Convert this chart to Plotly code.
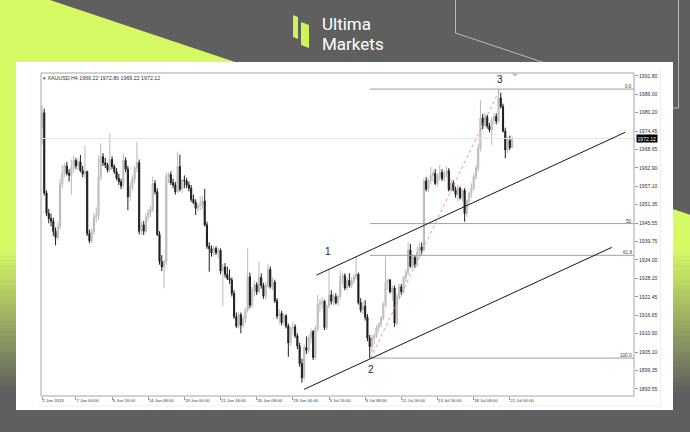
import plotly.graph_objects as go

# ---------------- data ----------------
opens = [1975.5, 1980.2, 1955.0, 1948.6, 1947.0, 1946.2, 1943.0, 1941.0, 1944.5, 1958.0,
         1961.0, 1963.5, 1961.2, 1960.5, 1963.0, 1965.2, 1963.5, 1964.8, 1962.0, 1961.0,
         1961.7, 1942.3, 1940.0, 1942.8, 1947.5, 1948.0, 1960.0, 1966.4, 1964.5, 1963.8,
         1962.2, 1965.5, 1963.3, 1961.7, 1959.6, 1958.5, 1957.2, 1965.2, 1962.5, 1953.8,
         1957.0, 1959.5, 1962.8, 1964.5, 1943.0, 1945.0, 1943.0, 1947.5, 1948.8, 1949.8,
         1958.0, 1955.4, 1942.0, 1933.5, 1931.8, 1933.4, 1960.0, 1960.8, 1958.2, 1957.5,
         1955.4, 1963.3, 1956.2, 1959.0, 1958.8, 1957.5, 1956.5, 1953.0, 1952.0, 1950.2,
         1951.0, 1951.3, 1952.5, 1945.0, 1938.3, 1937.5, 1936.2, 1937.6, 1936.3, 1937.0,
         1930.5, 1931.8, 1929.5, 1928.2, 1927.7, 1923.5, 1916.2, 1913.2, 1916.8, 1913.5,
         1915.5, 1918.2, 1928.7, 1919.8, 1924.5, 1926.2, 1924.0, 1928.5, 1926.0, 1922.6,
         1926.0, 1931.0, 1925.6, 1927.0, 1921.2, 1916.4, 1917.2, 1914.3, 1916.5, 1913.2,
         1908.0, 1912.5, 1913.0, 1910.2, 1907.0, 1901.5, 1897.0, 1906.5, 1905.6, 1909.5,
         1911.5, 1903.4, 1912.5, 1920.0, 1920.5, 1921.0, 1912.8, 1919.5, 1923.0, 1921.0,
         1922.5, 1920.5, 1922.5, 1928.7, 1929.0, 1925.2, 1927.6, 1926.0, 1927.5, 1928.7,
         1929.5, 1920.6, 1918.3, 1919.5, 1916.0, 1909.5, 1906.8, 1909.5, 1910.2, 1912.6,
         1913.8, 1915.8, 1919.8, 1926.8, 1927.7, 1924.0, 1925.2, 1914.2, 1922.5, 1925.6,
         1924.0, 1928.5, 1930.0, 1937.1, 1932.0, 1934.8, 1932.5, 1936.5, 1938.0, 1937.0,
         1958.8, 1956.2, 1959.0, 1960.5, 1961.2, 1958.0, 1960.0, 1961.5, 1959.5, 1961.2,
         1962.0, 1956.0, 1958.0, 1956.0, 1954.5, 1956.5, 1953.5, 1955.8, 1948.6, 1952.5,
         1954.9, 1956.5, 1960.1, 1962.8, 1969.0, 1978.5, 1976.2, 1978.9, 1976.0, 1974.8,
         1978.0, 1979.0, 1977.5, 1984.8, 1982.1, 1974.4, 1968.5, 1971.5, 1969.22]
highs = [1982.6, 1981.5, 1955.8, 1950.0, 1948.5, 1947.2, 1944.2, 1946.0, 1959.5, 1963.8,
         1964.5, 1964.8, 1962.5, 1965.5, 1966.8, 1966.0, 1965.8, 1966.9, 1963.5, 1969.8,
         1962.0, 1943.5, 1944.0, 1948.8, 1950.5, 1966.9, 1970.6, 1967.5, 1966.0, 1964.5,
         1973.7, 1966.5, 1964.0, 1962.8, 1961.0, 1959.5, 1967.4, 1966.2, 1963.5, 1958.5,
         1960.5, 1963.5, 1971.1, 1965.5, 1946.0, 1946.2, 1948.6, 1950.0, 1951.0, 1960.1,
         1959.0, 1956.5, 1943.0, 1935.5, 1934.0, 1961.5, 1961.5, 1961.8, 1959.5, 1958.5,
         1968.0, 1967.0, 1959.5, 1960.5, 1959.8, 1958.6, 1957.5, 1954.5, 1953.0, 1952.0,
         1954.0, 1954.2, 1956.3, 1946.0, 1939.5, 1938.5, 1938.5, 1938.2, 1937.8, 1937.6,
         1932.8, 1933.0, 1931.9, 1931.0, 1928.5, 1924.5, 1917.5, 1917.8, 1917.5, 1916.5,
         1919.0, 1937.6, 1930.0, 1925.5, 1927.5, 1927.0, 1933.4, 1929.8, 1926.8, 1927.0,
         1932.8, 1931.9, 1928.5, 1927.8, 1922.0, 1918.5, 1918.0, 1917.5, 1917.0, 1914.0,
         1913.2, 1914.5, 1913.8, 1911.0, 1908.0, 1903.0, 1907.5, 1910.0, 1910.5, 1912.5,
         1912.0, 1913.5, 1923.0, 1921.8, 1922.3, 1921.5, 1920.0, 1931.3, 1924.5, 1923.5,
         1923.5, 1923.0, 1930.8, 1930.0, 1929.8, 1928.5, 1929.8, 1928.5, 1929.5, 1935.0,
         1930.0, 1922.0, 1921.0, 1921.4, 1917.0, 1910.5, 1910.5, 1911.0, 1913.5, 1914.5,
         1916.5, 1920.8, 1935.0, 1928.2, 1928.0, 1926.0, 1926.0, 1923.5, 1926.6, 1926.5,
         1929.0, 1931.0, 1939.5, 1939.0, 1935.8, 1935.5, 1938.0, 1939.5, 1939.5, 1959.6,
         1960.0, 1959.5, 1963.2, 1962.0, 1962.5, 1961.0, 1963.8, 1962.5, 1962.0, 1963.3,
         1962.8, 1959.5, 1959.0, 1957.0, 1957.5, 1957.0, 1956.3, 1956.5, 1953.0, 1955.5,
         1958.0, 1961.0, 1963.8, 1970.5, 1984.2, 1979.8, 1980.2, 1979.5, 1977.0, 1978.8,
         1980.0, 1980.0, 1987.5, 1986.5, 1983.0, 1975.5, 1972.7, 1973.0, 1972.80]
lows = [1970.2, 1954.2, 1947.8, 1945.5, 1944.5, 1941.5, 1938.6, 1940.0, 1943.5, 1956.5,
        1960.0, 1960.5, 1958.6, 1954.5, 1961.5, 1962.5, 1962.2, 1961.5, 1960.0, 1959.5,
        1941.5, 1939.3, 1939.2, 1942.0, 1945.8, 1946.5, 1959.0, 1963.5, 1962.8, 1961.5,
        1961.5, 1962.5, 1961.0, 1959.0, 1957.5, 1956.2, 1956.5, 1961.5, 1949.6, 1952.5,
        1955.8, 1958.0, 1961.5, 1942.0, 1941.8, 1941.8, 1942.5, 1946.0, 1947.5, 1949.0,
        1954.5, 1941.5, 1932.5, 1930.5, 1925.1, 1932.5, 1958.0, 1957.5, 1956.5, 1954.5,
        1955.0, 1955.5, 1955.0, 1956.5, 1956.5, 1955.5, 1952.2, 1951.5, 1948.1, 1949.2,
        1949.5, 1950.0, 1944.5, 1937.5, 1930.3, 1935.0, 1935.2, 1935.5, 1934.5, 1929.5,
        1919.5, 1928.5, 1927.7, 1926.5, 1922.5, 1915.5, 1912.6, 1912.5, 1911.0, 1912.8,
        1914.2, 1917.5, 1918.8, 1919.0, 1922.5, 1923.0, 1923.5, 1925.0, 1921.8, 1921.5,
        1925.2, 1925.0, 1924.5, 1920.5, 1915.5, 1914.0, 1913.5, 1913.2, 1912.5, 1903.6,
        1907.0, 1910.5, 1909.5, 1906.0, 1900.5, 1895.5, 1896.2, 1904.5, 1904.8, 1907.8,
        1902.6, 1902.8, 1911.5, 1917.5, 1918.5, 1912.0, 1912.0, 1918.8, 1920.0, 1919.8,
        1920.0, 1919.5, 1921.8, 1926.5, 1924.5, 1924.5, 1925.3, 1925.2, 1926.5, 1927.8,
        1920.0, 1917.5, 1917.0, 1915.0, 1908.5, 1903.2, 1905.0, 1907.5, 1909.5, 1911.5,
        1913.0, 1915.0, 1919.2, 1924.5, 1923.5, 1921.2, 1913.0, 1913.5, 1921.5, 1923.0,
        1923.5, 1927.2, 1929.2, 1931.5, 1931.2, 1931.5, 1931.8, 1934.5, 1935.8, 1936.5,
        1955.5, 1955.2, 1957.8, 1958.5, 1957.5, 1957.0, 1959.0, 1958.8, 1958.5, 1960.0,
        1955.5, 1955.2, 1955.5, 1953.5, 1952.2, 1953.0, 1952.5, 1946.0, 1947.5, 1951.2,
        1953.5, 1955.8, 1959.2, 1961.8, 1968.0, 1975.0, 1975.5, 1975.2, 1974.0, 1970.1,
        1976.5, 1976.5, 1977.0, 1981.5, 1974.0, 1965.9, 1967.5, 1968.5, 1969.22]
closes = [1980.2, 1955.0, 1948.6, 1947.0, 1946.2, 1943.0, 1941.0, 1944.5, 1958.0, 1961.0,
          1963.5, 1961.2, 1960.5, 1963.0, 1965.2, 1963.5, 1964.8, 1962.0, 1961.0, 1961.7,
          1942.3, 1940.0, 1942.8, 1947.5, 1948.0, 1960.0, 1966.4, 1964.5, 1963.8, 1962.2,
          1965.5, 1963.3, 1961.7, 1959.6, 1958.5, 1957.2, 1965.2, 1962.5, 1953.8, 1957.0,
          1959.5, 1962.8, 1964.5, 1943.0, 1945.0, 1943.0, 1947.5, 1948.8, 1949.8, 1958.0,
          1955.4, 1942.0, 1933.5, 1931.8, 1933.4, 1960.0, 1960.8, 1958.2, 1957.5, 1955.4,
          1963.3, 1956.2, 1959.0, 1958.8, 1957.5, 1956.5, 1953.0, 1952.0, 1950.2, 1951.0,
          1951.3, 1952.5, 1945.0, 1938.3, 1937.5, 1936.2, 1937.6, 1936.3, 1937.0, 1930.5,
          1931.8, 1929.5, 1928.2, 1927.7, 1923.5, 1916.2, 1913.2, 1916.8, 1913.5, 1915.5,
          1918.2, 1928.7, 1919.8, 1924.5, 1926.2, 1924.0, 1928.5, 1926.0, 1922.6, 1926.0,
          1931.0, 1925.6, 1927.0, 1921.2, 1916.4, 1917.2, 1914.3, 1916.5, 1913.2, 1908.0,
          1912.5, 1913.0, 1910.2, 1907.0, 1901.5, 1897.0, 1906.5, 1905.6, 1909.5, 1911.5,
          1903.4, 1912.5, 1920.0, 1920.5, 1921.0, 1912.8, 1919.5, 1923.0, 1921.0, 1922.5,
          1920.5, 1922.5, 1928.7, 1929.0, 1925.2, 1927.6, 1926.0, 1927.5, 1928.7, 1929.5,
          1920.6, 1918.3, 1919.5, 1916.0, 1909.5, 1906.8, 1909.5, 1910.2, 1912.6, 1913.8,
          1915.8, 1919.8, 1926.8, 1927.7, 1924.0, 1925.2, 1914.2, 1922.5, 1925.6, 1924.0,
          1928.5, 1930.0, 1937.1, 1932.0, 1934.8, 1932.5, 1936.5, 1938.0, 1937.0, 1958.8,
          1956.2, 1959.0, 1960.5, 1961.2, 1958.0, 1960.0, 1961.5, 1959.5, 1961.2, 1962.0,
          1956.0, 1958.0, 1956.0, 1954.5, 1956.5, 1953.5, 1955.8, 1948.6, 1952.5, 1954.9,
          1956.5, 1960.1, 1962.8, 1969.0, 1978.5, 1976.2, 1978.9, 1976.0, 1974.8, 1978.0,
          1979.0, 1977.5, 1984.8, 1982.1, 1974.4, 1968.5, 1971.5, 1969.22, 1972.12]
bar_index = list(range(len(opens)))

time_tick_index = [0, 15, 31, 47, 63, 79, 95, 111, 127, 143, 159, 175, 191, 207]
time_tick_labels = ["2 Jun 2023", "7 Jun 00:00", "9 Jun 16:00", "14 Jun 08:00",
                    "19 Jun 00:00", "21 Jun 16:00", "26 Jun 08:00", "29 Jun 00:00",
                    "3 Jul 16:00", "6 Jul 08:00", "11 Jul 00:00", "13 Jul 16:00",
                    "18 Jul 08:00", "21 Jul 00:00"]
price_ticks = [1991.80, 1986.00, 1980.20, 1974.45, 1968.65, 1962.90, 1957.10, 1951.35,
               1945.55, 1939.75, 1934.00, 1928.20, 1922.45, 1916.65, 1910.90, 1905.10,
               1899.35, 1893.55]

# wave pivots 1, 2, 3
wave_labels = ["1", "2", "3"]
wave_x = [126.7, 145.4, 202.6]
wave_y = [1931.3, 1903.2, 1987.6]

# Fibonacci retracement drawn from pivot 2 to pivot 3
fib_levels = [0.0, 50.0, 61.8, 100.0]
fib_level_text = ["0.0", "50", "61.8", "100.0"]
fib_start_x = 145.1
fib_low = 1903.2
fib_high = 1987.6

# channel lines (index, price)
channel_upper_x = [121.5, 258.0]
channel_upper_y = [1929.25, 1974.03]
channel_lower_x = [115.9, 252.1]
channel_lower_y = [1893.37, 1937.94]

x_range = [-0.442, 261.95]
y_range = [1891.3, 1992.65]

# ---------------- layout helpers ----------------
FW, FH = 690, 432
PL, PR, PT, PB = 41, 634, 73, 396


def px(x):
    return (x - PL) / (PR - PL)


def py(y):
    return (PB - y) / (PB - PT)


def poly(points, closed=True):
    s = "M " + " L ".join(f"{px(a):.5f},{py(b):.5f}" for a, b in points)
    return s + (" Z" if closed else "")


GRAY = (95, 95, 95)
LIME = (213, 250, 100)


def mix(t):
    return "rgb(%d,%d,%d)" % tuple(round(LIME[k] + (GRAY[k] - LIME[k]) * t) for k in range(3))


SLOPE = 209.0 / 623.0


def xd(y):
    return 50 + y / SLOPE


shapes = []
# lime area under the diagonal, with a vertical fade to gray lower down
shapes.append(dict(type="path", xref="paper", yref="paper", layer="below",
                   path=poly([(-2, -2), (50 - 2 * (1 / SLOPE), -2), (xd(250), 250), (-2, 250)]),
                   fillcolor=mix(0), line=dict(width=0)))
n_band = 28
y_a, y_b = 250, 392
for k in range(n_band):
    y0 = y_a + (y_b - y_a) * k / n_band
    y1 = y_a + (y_b - y_a) * (k + 1) / n_band + 0.6
    t = (k + 0.5) / n_band
    shapes.append(dict(type="path", xref="paper", yref="paper", layer="below",
                       path=poly([(-2, y0), (760, y0), (760, y1), (-2, y1)]),
                       fillcolor=mix(t), line=dict(width=0)))
# thin decorative lines
shapes.append(dict(type="path", xref="paper", yref="paper", layer="below",
                   path=poly([(455.5, -2), (455.5, 33), (545, 63)], closed=False),
                   line=dict(color="rgb(185,185,185)", width=1)))
shapes.append(dict(type="path", xref="paper", yref="paper", layer="below",
                   path=poly([(678.5, -2), (678.5, 108), (670, 108)], closed=False),
                   line=dict(color="rgb(185,185,185)", width=1)))
# white panel
shapes.append(dict(type="rect", xref="paper", yref="paper", layer="below",
                   x0=px(16), x1=px(673), y0=py(410), y1=py(62),
                   fillcolor="white", line=dict(width=0)))
# faint window borders
shapes.append(dict(type="line", xref="paper", yref="paper", layer="below",
                   x0=px(660.5), x1=px(660.5), y0=py(406), y1=py(69),
                   line=dict(color="rgb(238,238,238)", width=1)))
shapes.append(dict(type="line", xref="paper", yref="paper", layer="below",
                   x0=px(38), x1=px(660.5), y0=py(406), y1=py(406),
                   line=dict(color="rgb(238,238,238)", width=1)))
# chart frame
shapes.append(dict(type="rect", xref="paper", yref="paper", layer="above",
                   x0=0, x1=1, y0=0, y1=1,
                   line=dict(color="rgb(165,165,165)", width=1)))
# shift marker
shapes.append(dict(type="path", xref="paper", yref="paper", layer="above",
                   path=poly([(512, 73.5), (518, 73.5), (515, 76.5)]),
                   fillcolor="rgb(185,185,185)", line=dict(width=0)))
# logo icon
ICON = "rgb(205,245,90)"
shapes.append(dict(type="path", xref="paper", yref="paper", layer="above",
                   path=poly([(293, 15), (298, 17), (298, 39), (293, 37)]),
                   fillcolor=ICON, line=dict(width=0)))
shapes.append(dict(type="path", xref="paper", yref="paper", layer="above",
                   path=poly([(301, 22), (309, 25), (309, 48), (301, 45)]),
                   fillcolor=ICON, line=dict(width=0)))

fig = go.Figure()

# bid line
fig.add_trace(go.Scatter(x=x_range, y=[closes[-1], closes[-1]], mode="lines",
                         line=dict(color="rgb(228,228,228)", width=1),
                         hoverinfo="skip", showlegend=False))
# fib levels
fib_prices = [fib_high - lv / 100.0 * (fib_high - fib_low) for lv in fib_levels]
for fp in fib_prices:
    fig.add_trace(go.Scatter(x=[fib_start_x, x_range[1]], y=[fp, fp], mode="lines",
                             line=dict(color="rgb(160,160,160)", width=1),
                             hoverinfo="skip", showlegend=False))

fig.add_trace(go.Candlestick(
    x=bar_index, open=opens, high=highs, low=lows, close=closes,
    increasing=dict(line=dict(color="rgb(185,185,185)", width=1), fillcolor="rgb(215,215,215)"),
    decreasing=dict(line=dict(color="rgb(30,30,30)", width=1), fillcolor="rgb(30,30,30)"),
    whiskerwidth=0, hoverinfo="skip", showlegend=False))

# red dotted fib trend line
fig.add_trace(go.Scatter(x=[wave_x[1], wave_x[2]], y=[fib_low, fib_high], mode="lines",
                         line=dict(color="rgb(240,120,120)", width=0.8, dash="dot"),
                         hoverinfo="skip", showlegend=False))
# channel lines
fig.add_trace(go.Scatter(x=channel_upper_x, y=channel_upper_y, mode="lines",
                         line=dict(color="rgb(20,20,20)", width=1),
                         hoverinfo="skip", showlegend=False))
fig.add_trace(go.Scatter(x=channel_lower_x, y=channel_lower_y, mode="lines",
                         line=dict(color="rgb(20,20,20)", width=1),
                         hoverinfo="skip", showlegend=False))

AX_FONT = "Liberation Sans, Arial, sans-serif"
annotations = []
# wave labels
shifts = [10, -4, 2]
anchors = ["bottom", "top", "bottom"]
for lab, wx, wy, sh, an in zip(wave_labels, wave_x, wave_y, shifts, anchors):
    annotations.append(dict(x=wx, y=wy, xref="x", yref="y", text=lab, showarrow=False,
                            yanchor=an, yshift=sh,
                            font=dict(family=AX_FONT, size=10, color="rgb(30,30,30)")))
# fib labels
for fp, ft in zip(fib_prices, fib_level_text):
    annotations.append(dict(x=1, y=fp, xref="paper", yref="y", text=ft, showarrow=False,
                            xanchor="right", yanchor="bottom", xshift=-1, yshift=-1,
                            borderpad=0,
                            font=dict(family=AX_FONT, size=4.6, color="rgb(60,60,60)")))
# current price box
annotations.append(dict(x=1, y=closes[-1], xref="paper", yref="y", text=f"{closes[-1]:.2f}",
                        showarrow=False, xanchor="left", xshift=2, bgcolor="black",
                        borderpad=0.5,
                        font=dict(family=AX_FONT, size=5.1, color="white")))
# header
annotations.append(dict(x=px(42), y=py(78.3), xref="paper", yref="paper",
                        text=f"\u25be XAUUSD,H4 {opens[-1]:.2f} {highs[-1]:.2f} {lows[-1]:.2f} {closes[-1]:.2f}",
                        showarrow=False, xanchor="left", yanchor="middle", borderpad=0,
                        font=dict(family=AX_FONT, size=5.3, color="rgb(50,50,50)")))
# logo text
annotations.append(dict(x=px(321), y=py(24), xref="paper", yref="paper", text="Ultima",
                        showarrow=False, xanchor="left", yanchor="middle", borderpad=0,
                        font=dict(family="Roboto, sans-serif", size=17, color="white")))
annotations.append(dict(x=px(321), y=py(44.2), xref="paper", yref="paper", text="Markets",
                        showarrow=False, xanchor="left", yanchor="middle", borderpad=0,
                        font=dict(family="Roboto, sans-serif", size=17, color="white")))

fig.update_layout(
    width=FW, height=FH,
    margin=dict(l=PL, r=FW - PR, t=PT, b=FH - PB, pad=0),
    paper_bgcolor="rgb(95,95,95)", plot_bgcolor="rgba(0,0,0,0)",
    showlegend=False, shapes=shapes, annotations=annotations,
    xaxis=dict(range=x_range, tickvals=time_tick_index, ticktext=time_tick_labels,
               ticks="outside", ticklen=3, tickwidth=1, tickcolor="rgb(150,150,150)",
               ticklabelposition="outside right",
               tickfont=dict(family=AX_FONT, size=4.3, color="rgb(50,50,50)"),
               showgrid=False, zeroline=False, showline=False,
               rangeslider=dict(visible=False), fixedrange=True),
    yaxis=dict(range=y_range, side="right", tickvals=price_ticks,
               ticktext=[f"{v:.2f}" for v in price_ticks],
               ticks="outside", ticklen=3, tickwidth=1, tickcolor="rgb(150,150,150)",
               tickfont=dict(family=AX_FONT, size=5.1, color="rgb(50,50,50)"),
               showgrid=False, zeroline=False, showline=False, fixedrange=True),
)

fig.write_html("out.html", config={"displayModeBar": False},
               post_script="document.body.style.margin='0';document.body.style.overflow='hidden';")
